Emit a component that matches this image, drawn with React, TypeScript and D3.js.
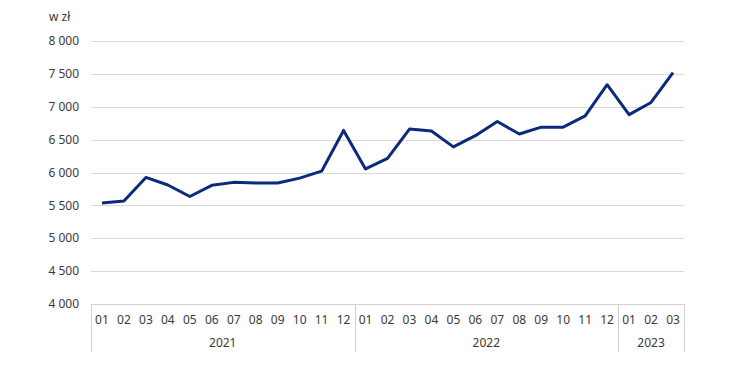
import React from "react";
import * as d3 from "d3";

const months = [
  "01","02","03","04","05","06","07","08","09","10","11","12",
  "01","02","03","04","05","06","07","08","09","10","11","12",
  "01","02","03",
];
const years = ["2021", "2022", "2023"];
const yearCounts = [12, 12, 3];
const values = [
  5535, 5568, 5925, 5810, 5635, 5805, 5850, 5840, 5840, 5915, 6020, 6640,
  6055, 6215, 6660, 6630, 6390, 6560, 6775, 6585, 6690, 6690, 6860, 7335,
  6880, 7065, 7520,
];
const yTicks = [4000, 4500, 5000, 5500, 6000, 6500, 7000, 7500, 8000];
const unitLabel = "w zł";

const W = 750, H = 379;
const left = 91, right = 684, top = 41, bottom = 304;

const fmt = (v: number) => {
  const s = String(v);
  return s.length > 3 ? s.slice(0, s.length - 3) + " " + s.slice(-3) : s;
};

export default function App() {
  const x = d3.scaleBand<number>().domain(d3.range(months.length)).range([left, right]).padding(0);
  const y = d3.scaleLinear().domain([4000, 8000]).range([bottom, top]);
  const line = d3.line<number>()
    .x((_, i) => (x(i) as number) + x.bandwidth() / 2)
    .y((d) => y(d));

  const font = "'Noto Sans', sans-serif";
  const textColor = "#3a3a3a";

  let start = 0;
  const groups = yearCounts.map((c, gi) => {
    const g = { label: years[gi], s: start, e: start + c };
    start += c;
    return g;
  });
  const bx = (i: number) => (i >= months.length ? right : (x(i) as number));

  return (
    <svg width={W} height={H} style={{ position: "absolute", left: 0, top: 0 }} fontFamily={font}>
      <rect width={W} height={H} fill="#fff" />
      <text x={49} y={21} fontSize={12} fill={textColor}>{unitLabel}</text>
      {yTicks.map((t) => (
        <g key={t}>
          {t !== 4000 && (
            <line x1={left} x2={right} y1={Math.round(y(t)) + 0.5} y2={Math.round(y(t)) + 0.5} stroke="#d9d9d9" strokeWidth={1} />
          )}
          <text x={79} y={y(t)} dy="0.35em" textAnchor="end" fontSize={12} fill={textColor}>{fmt(t)}</text>
        </g>
      ))}
      <line x1={left} x2={right} y1={bottom + 0.5} y2={bottom + 0.5} stroke="#d0d0d0" strokeWidth={1} />
      {[0, ...groups.map((g) => g.e)].map((i, k) => (
        <line key={k} x1={Math.round(bx(i)) + 0.5} x2={Math.round(bx(i)) + 0.5} y1={bottom} y2={352} stroke="#d0d0d0" strokeWidth={1} />
      ))}
      {months.map((m, i) => (
        <text key={i} x={(x(i) as number) + x.bandwidth() / 2} y={320} dy="0.35em" textAnchor="middle" fontSize={12} fill={textColor}>{m}</text>
      ))}
      {groups.map((g) => (
        <text key={g.label} x={(bx(g.s) + bx(g.e)) / 2} y={343} dy="0.35em" textAnchor="middle" fontSize={12} fill={textColor}>{g.label}</text>
      ))}
      <path d={line(values) || ""} fill="none" stroke="#0b2a7c" strokeWidth={3} strokeLinejoin="round" />
    </svg>
  );
}
